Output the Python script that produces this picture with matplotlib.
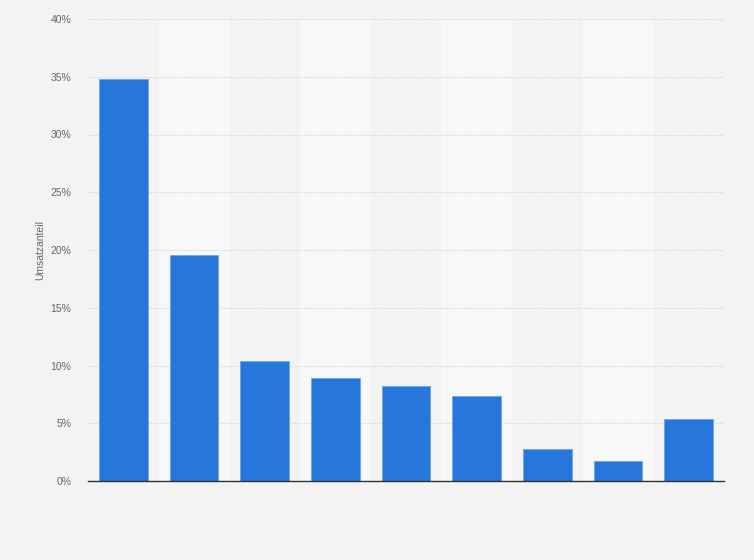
import matplotlib
matplotlib.use("Agg")
import matplotlib.pyplot as plt
from matplotlib.ticker import FuncFormatter

plt.rcParams["font.family"] = ["Liberation Sans", "DejaVu Sans"]

categories = ["1", "2", "3", "4", "5", "6", "7", "8", "9"]
values = [34.8, 19.6, 10.4, 8.9, 8.2, 7.4, 2.8, 1.7, 5.4]
yticks = [0, 5, 10, 15, 20, 25, 30, 35, 40]

bg = "#f3f3f3"
fig = plt.figure(figsize=(7.54, 5.6), dpi=100, facecolor=bg)
ax = fig.add_axes([88/754, 79/560, (724-88)/754, (481-19)/560])
ax.set_facecolor(bg)

x = list(range(len(categories)))
for i in x:
    if i % 2 == 1:
        ax.axvspan(i - 0.5, i + 0.5, color="#f8f8f8", zorder=0, lw=0)

ax.bar(x, values, width=0.69, color="#2776db", edgecolor="#6fa3ea", linewidth=0.6, zorder=3)

ax.set_xlim(-0.5, len(categories) - 0.5)
ax.set_ylim(0, 40)
ax.set_yticks(yticks)
ax.yaxis.set_major_formatter(FuncFormatter(lambda v, p: f"{int(v)}%"))
ax.tick_params(axis="y", length=0, labelsize=7.5, labelcolor="#666666", pad=12)
ax.set_xticks([])
ax.grid(axis="y", color="#d6d6d6", linestyle=(0, (1, 1)), linewidth=0.8, zorder=1)
for s in ["top", "right", "left"]:
    ax.spines[s].set_visible(False)
ax.spines["bottom"].set_color("#333333")
ax.spines["bottom"].set_linewidth(1.0)
ax.spines["bottom"].set_zorder(4)

ax.set_ylabel("Umsatzanteil", fontsize=7.5, color="#666666", labelpad=4)

fig.savefig("out.png", dpi=100, facecolor=bg)
